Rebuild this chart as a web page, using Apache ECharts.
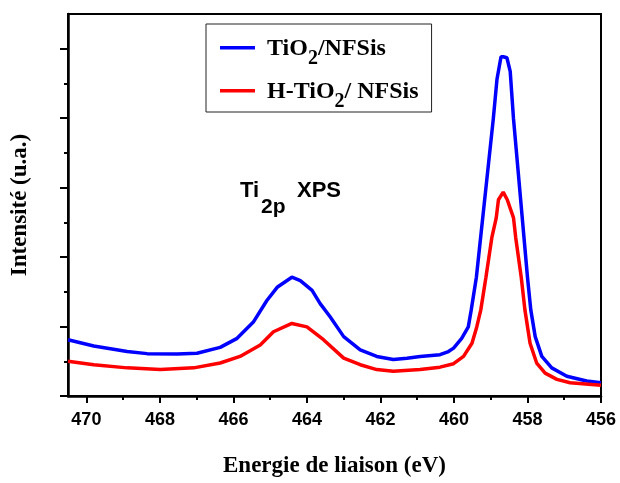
<!DOCTYPE html>
<html>
<head>
<meta charset="utf-8">
<script src="https://cdn.jsdelivr.net/npm/echarts@6/dist/echarts.min.js"></script>
<style>html,body{margin:0;padding:0;background:#fff}#c{width:620px;height:483px}</style>
</head>
<body>
<div id="c"></div>
<script>
// ---- data ----
var seriesNames = ['TiO2/NFSis', 'H-TiO2/ NFSis'];
var blueEnergy = [470.5, 469.8, 468.89, 468.35, 467.53, 466.99, 466.36, 465.9, 465.45, 465.09, 464.81, 464.41, 464.18, 463.86, 463.64, 463.37, 463.0, 462.55, 462.1, 461.65, 461.28, 460.92, 460.38, 460.15, 460.01, 459.79, 459.61, 459.53, 459.39, 458.93, 458.83, 458.72, 458.66, 458.56, 458.47, 458.38, 458.0, 457.91, 457.79, 457.61, 457.34, 456.93, 456.39, 456.0];
var blueIntensity = [1.62, 1.44, 1.28, 1.22, 1.21, 1.23, 1.40, 1.66, 2.14, 2.75, 3.13, 3.42, 3.32, 3.04, 2.66, 2.28, 1.71, 1.33, 1.14, 1.05, 1.09, 1.14, 1.19, 1.28, 1.38, 1.66, 1.99, 2.48, 3.42, 7.98, 9.12, 9.77, 9.77, 9.74, 9.35, 7.98, 3.42, 2.48, 1.71, 1.14, 0.81, 0.57, 0.43, 0.38];
var redEnergy = [470.5, 469.8, 468.89, 467.99, 467.08, 466.36, 465.82, 465.27, 464.91, 464.41, 464.0, 463.55, 463.0, 462.55, 462.1, 461.65, 460.92, 460.38, 460.01, 459.74, 459.51, 459.38, 459.27, 459.13, 458.97, 458.85, 458.79, 458.66, 458.55, 458.38, 458.32, 458.17, 458.07, 457.93, 457.75, 457.52, 457.2, 456.84, 456.0];
var redIntensity = [1.0, 0.90, 0.81, 0.76, 0.81, 0.95, 1.14, 1.47, 1.85, 2.09, 1.99, 1.62, 1.09, 0.90, 0.76, 0.71, 0.76, 0.83, 0.93, 1.14, 1.52, 1.99, 2.48, 3.42, 4.56, 5.13, 5.65, 5.87, 5.65, 5.13, 4.56, 3.42, 2.48, 1.52, 0.95, 0.66, 0.48, 0.38, 0.31];
var xMajorTicks = [470, 468, 466, 464, 462, 460, 458, 456];
var xMinorTicks = [469, 467, 465, 463, 461, 459, 457];
var yMajorTicks = [0, 2, 4, 6, 8, 10];
var yMinorTicks = [1, 3, 5, 7, 9];

function pairs(xs, ys) { return xs.map(function (x, i) { return [x, ys[i]]; }); }

var serif = 'Liberation Serif, Times New Roman, serif';
var sans = 'Liberation Sans, Arial, sans-serif';

var chart = echarts.init(document.getElementById('c'), null, {renderer: 'canvas'});
var XMIN = 456, XMAX = 470.5, YMIN = 0, YMAX = 11;

chart.setOption({
  backgroundColor: '#fff',
  animation: false,
  grid: {left: 68, right: 19, top: 14, bottom: 83, show: true, borderColor: '#000', borderWidth: 2, backgroundColor: 'transparent'},
  legend: {
    orient: 'vertical', left: 206, top: 24,
    data: seriesNames,
    icon: 'path://M0,0L35,0L35,3.6L0,3.6Z M35,22L35,22.01',
    itemWidth: 35, itemHeight: 22, itemGap: 5,
    itemStyle: {borderWidth: 0},
    padding: [7, 13, 0, 14],
    borderColor: '#222', borderWidth: 1,
    formatter: function (n) {
      return n === seriesNames[0] ? '{f|TiO}{s|2}{m|/NFSis}' : '{f|H-TiO}{s|2}{m|/ NFSis}';
    },
    textStyle: {
      fontFamily: serif, fontWeight: 'bold', fontSize: 24, color: '#000',
      rich: {
        f: {fontFamily: serif, fontWeight: 'bold', fontSize: 24, lineHeight: 24, padding: [6, 0, 8, 7], verticalAlign: 'bottom', color: '#000'},
        m: {fontFamily: serif, fontWeight: 'bold', fontSize: 24, lineHeight: 24, padding: [6, 0, 8, 0], verticalAlign: 'bottom', color: '#000'},
        s: {fontFamily: serif, fontWeight: 'bold', fontSize: 20, lineHeight: 20, verticalAlign: 'bottom', color: '#000'}
      }
    }
  },
  xAxis: [{
    type: 'value', min: XMIN, max: XMAX, inverse: true,
    name: 'Energie de liaison (eV)', nameLocation: 'middle', nameGap: 59,
    nameTextStyle: {fontFamily: serif, fontWeight: 'bold', fontSize: 23, color: '#000'},
    axisLine: {show: true, lineStyle: {color: '#000', width: 2.5}},
    axisTick: {show: true, inside: false, length: 7, lineStyle: {color: '#000', width: 2}, customValues: xMajorTicks},
    axisLabel: {show: true, margin: 15, fontFamily: sans, fontWeight: 'bold', fontSize: 18, color: '#000', customValues: xMajorTicks},
    splitLine: {show: false}
  }, {
    type: 'value', min: XMIN, max: XMAX, inverse: true, position: 'bottom',
    axisLine: {show: false},
    axisTick: {show: true, inside: false, length: 4, lineStyle: {color: '#000', width: 2}, customValues: xMinorTicks},
    axisLabel: {show: false},
    splitLine: {show: false}
  }],
  yAxis: [{
    type: 'value', min: YMIN, max: YMAX,
    name: 'Intensité (u.a.)', nameLocation: 'middle', nameGap: 36, nameRotate: 90,
    nameTextStyle: {fontFamily: serif, fontWeight: 'bold', fontSize: 23, color: '#000'},
    axisLine: {show: true, lineStyle: {color: '#000', width: 2.5}},
    axisTick: {show: true, inside: false, length: 8, lineStyle: {color: '#000', width: 2}, customValues: yMajorTicks},
    axisLabel: {show: false},
    splitLine: {show: false}
  }, {
    type: 'value', min: YMIN, max: YMAX, position: 'left',
    axisLine: {show: false},
    axisTick: {show: true, inside: false, length: 4, lineStyle: {color: '#000', width: 2}, customValues: yMinorTicks},
    axisLabel: {show: false},
    splitLine: {show: false}
  }],
  graphic: [
    {type: 'text', left: 240, top: 180, style: {text: 'Ti', font: 'bold 22px ' + sans, fill: '#000'}},
    {type: 'text', left: 261, top: 197, style: {text: '2p', font: 'bold 21px ' + sans, fill: '#000'}},
    {type: 'text', left: 297, top: 180, style: {text: 'XPS', font: 'bold 22px ' + sans, fill: '#000'}}
  ],
  series: [{
    name: seriesNames[0], type: 'line', xAxisIndex: 0, yAxisIndex: 0,
    data: pairs(blueEnergy, blueIntensity),
    showSymbol: false, symbol: 'none',
    lineStyle: {color: '#0000ff', width: 3.5}, itemStyle: {color: '#0000ff'}
  }, {
    name: seriesNames[1], type: 'line', xAxisIndex: 0, yAxisIndex: 0,
    data: pairs(redEnergy, redIntensity),
    showSymbol: false, symbol: 'none',
    lineStyle: {color: '#ff0000', width: 3.5}, itemStyle: {color: '#ff0000'}
  }]
});
</script>
</body>
</html>
